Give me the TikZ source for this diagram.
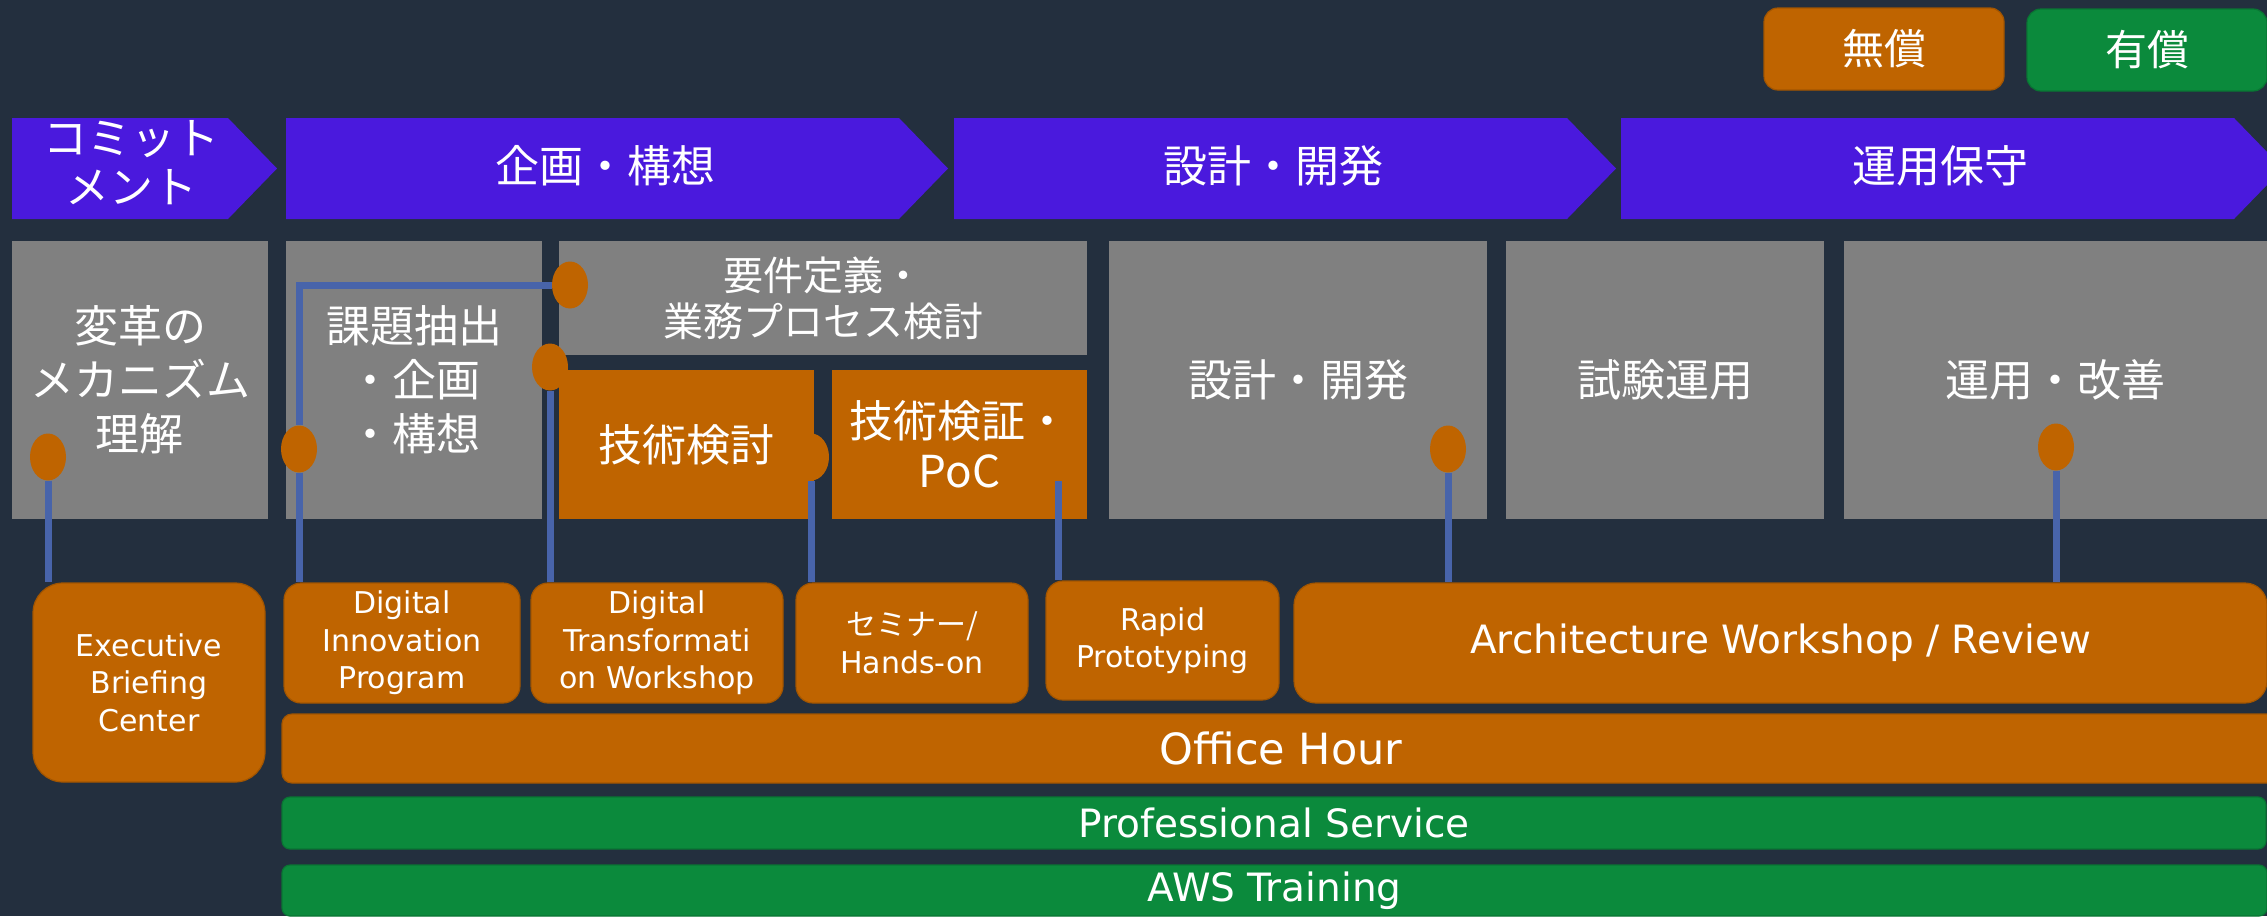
\documentclass[tikz,border=0pt]{standalone}
\usepackage{fontspec}
\setmainfont{DejaVu Sans}
\newfontfamily\jpfont{Noto Sans CJK JP}
\usepackage{tikz}
\usetikzlibrary{positioning,shapes.geometric}

\definecolor{awsnavy}{HTML}{232F3E}
\definecolor{phaseblue}{HTML}{4A19DD}
\definecolor{stepgray}{HTML}{808080}
\definecolor{freeorange}{HTML}{BF6400}
\definecolor{paidgreen}{HTML}{0B8A3C}
\definecolor{pinblue}{HTML}{4864AA}

\tikzset{
  phase/.style={fill=phaseblue},
  phasetext/.style={text=white, align=center, inner sep=0pt, font=\jpfont\fontsize{44}{49}\selectfont},
  stepbox/.style={fill=stepgray, text=white, align=center, inner sep=0pt, font=\jpfont\fontsize{44}{54}\selectfont},
  techbox/.style={stepbox, fill=freeorange},
  freebox/.style={fill=freeorange, draw=freeorange!85!black, line width=1.2pt, text=white, align=center, inner sep=0pt, rounded corners=17pt, font=\fontsize{30}{37.5}\selectfont},
  paidbox/.style={freebox, fill=paidgreen, draw=paidgreen!85!black},
  pin/.style={ellipse, fill=freeorange, inner sep=0pt, minimum width=36pt, minimum height=47pt},
  pinline/.style={pinblue, line width=7pt},
}

\begin{document}
\begin{tikzpicture}[x=1pt,y=-1pt]
\useasboundingbox (0,0) rectangle (2267,916);
\fill[awsnavy] (0,0) rectangle (2267,916);
\clip (0,0) rectangle (2267,916);

% legend
\node (free) at (1884,49) [freebox, minimum width=240, minimum height=82, rounded corners=14pt, font=\jpfont\fontsize{42}{46}\selectfont] {無償};
\node (paid) at (2147,50) [paidbox, minimum width=240, minimum height=82, rounded corners=14pt, font=\jpfont\fontsize{42}{46}\selectfont] {有償};

% phases
\foreach \xa/\xb in {12/228, 286/899, 954/1567, 1621/2234}
  \fill[phase] (\xa,118) -- (\xb,118) -- ({\xb+49},168.5) -- (\xb,219) -- (\xa,219) -- cycle;
\node (commit) at (131,163) [phasetext] {コミット\\メント};
\node (plan) at (605,166) [phasetext] {企画・構想};
\node (dev) at (1273,166) [phasetext] {設計・開発};
\node (ops) at (1940,166) [phasetext] {運用保守};

% steps
\node (insight) at (140,380) [stepbox, minimum width=256, minimum height=278] {変革の\\メカニズム\\理解};
\node (idea) at (414,380) [stepbox, minimum width=256, minimum height=278] {課題抽出\\・企画\\・構想};
\node (reqs) at (823,298) [stepbox, minimum width=528, minimum height=114, font=\jpfont\fontsize{40}{46}\selectfont] {要件定義・\\業務プロセス検討};
\node (study) at (686.5,444.5) [techbox, minimum width=255, minimum height=149] {技術検討};
\node (poc) at (959.5,444.5) [techbox, minimum width=255, minimum height=149, font=\jpfont\fontsize{44}{50}\selectfont] {技術検証・\\PoC};
\node (build) at (1298,380) [stepbox, minimum width=378, minimum height=278] {設計・開発};
\node (trial) at (1665,380) [stepbox, minimum width=318, minimum height=278] {試験運用};
\node (operate) at (2055.5,380) [stepbox, minimum width=423, minimum height=278] {運用・改善};

% programs
\node (ebc) at (149,682.5) [freebox, minimum width=232, minimum height=199, rounded corners=30pt] {Executive\\Briefing\\Center};
\node (dip) at (402,643) [freebox, minimum width=236, minimum height=120] {Digital\\Innovation\\Program};
\node (dtw) at (657,643) [freebox, minimum width=252, minimum height=120] {Digital\\Transformati\\on Workshop};
\node (seminar) at (912,643) [freebox, minimum width=232, minimum height=120] {{\jpfont セミナー/}\\Hands-on};
\node (rapid) at (1162.5,640.5) [freebox, minimum width=233, minimum height=119] {Rapid\\Prototyping};
\node (review) at (1780.5,643) [freebox, minimum width=973, minimum height=120, rounded corners=22pt, font=\fontsize{39}{46}\selectfont] {Architecture Workshop / Review};
\node (office) at (1281,748.5) [freebox, minimum width=1998, minimum height=69, rounded corners=10pt, font=\fontsize{43}{50}\selectfont] {Office Hour};
\node (prof) at (1274,823) [paidbox, minimum width=1984, minimum height=52, rounded corners=8pt, font=\fontsize{39}{46}\selectfont] {Professional Service};
\node (training) at (1274.5,890.5) [paidbox, minimum width=1985, minimum height=51, rounded corners=8pt, font=\fontsize{39}{46}\selectfont] {AWS Training};

% pins
\node (pinEBC) at (48,457) [pin] {};
\node (pinIdea) at (299,449) [pin] {};
\node (pinReq) at (570,285) [pin] {};
\node (pinSpec) at (550,367) [pin] {};
\node (pinStudy) at (811,457) [pin] {};
\coordinate (pocfoot) at (1058,481);
\node (pinBuild) at (1448,449) [pin] {};
\node (pinOperate) at (2056,447) [pin] {};

\draw[pinline] (pinEBC.south) -- (pinEBC.south |- ebc.north);
\draw[pinline] (pinReq.west) -| (pinIdea.north);
\draw[pinline] (pinIdea.south) -- (pinIdea.south |- dip.north);
\draw[pinline] (pinSpec.south) -- (pinSpec.south |- dtw.north);
\draw[pinline] (pinStudy.south) -- (pinStudy.south |- seminar.north);
\draw[pinline] (pocfoot) -- (pocfoot |- rapid.north);
\draw[pinline] (pinBuild.south) -- (pinBuild.south |- review.north);
\draw[pinline] (pinOperate.south) -- (pinOperate.south |- review.north);
\end{tikzpicture}
\end{document}
